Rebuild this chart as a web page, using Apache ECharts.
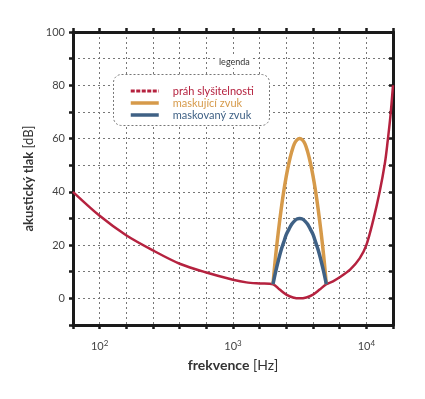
<!DOCTYPE html>
<html>
<head>
<meta charset="utf-8">
<script src="https://cdn.jsdelivr.net/npm/echarts@6/dist/echarts.min.js"></script>
<style>
html, body { margin: 0; padding: 0; background: #fff; }
#main { width: 425px; height: 399px; }
</style>
</head>
<body>
<div id="main"></div>
<script>
// frequencies in Hz, levels in dB
const thresholdFreq = [63, 100, 158, 251, 398, 631, 1000, 1259, 1585, 1995, 2239, 2512, 2818, 3162, 3548, 3981, 4467, 5012, 5623, 6310, 7586, 8913, 10000, 11220, 12589, 13804, 14454, 15136, 15849];
const thresholdDb   = [40, 31, 23.7, 18, 13, 9.7, 7, 6, 5.6, 5.3, 3.3, 1.4, 0.35, 0, 0.35, 1.4, 3.3, 5.3, 6.4, 7.9, 10.9, 15, 20, 29, 40, 51, 59, 68, 80];

const bumpFreq  = [1995, 2089, 2188, 2291, 2399, 2512, 2630, 2754, 2884, 3020, 3162, 3311, 3467, 3631, 3802, 3981, 4169, 4365, 4571, 4786, 5012];
const maskingDb = [5.3, 16, 25, 33, 40, 46, 51, 55, 58, 59.5, 60, 59.5, 58, 55, 51, 46, 40, 33, 25, 16, 5.3];
const maskedDb  = [5.3, 10, 14.2, 18, 21, 24, 26, 27.8, 29, 29.8, 30, 29.8, 29, 27.8, 26, 24, 21, 18, 14.2, 10, 5.3];

const yTicks = [0, 20, 40, 60, 80, 100];
const xTickExps = [2, 3, 4];
const seriesNames = ['práh slyšitelnosti', 'maskující zvuk', 'maskovaný zvuk'];
const colors = ['#b5223f', '#d69a4a', '#3f6185'];

const toPts = (f, v) => f.map((x, i) => [Math.log10(x), v[i]]);

const chart = echarts.init(document.getElementById('main'));

const gridLine = { show: true, lineStyle: { color: '#777', width: 1, type: [2, 3] } };
const axisLine = { show: true, onZero: false, lineStyle: { color: '#1a1a1a', width: 3 } };
const tick = { show: true, inside: false, length: 4, lineStyle: { color: '#1a1a1a', width: 2.5 } };

chart.setOption({
    animation: false,
    textStyle: { fontFamily: 'Lato, "Open Sans", sans-serif' },
    grid: { left: 73, right: 32, top: 32, bottom: 74 },
    xAxis: [
        {
            type: 'value',
            min: 1.8,
            max: 4.2,
            interval: 0.2,
            axisLine: axisLine,
            axisTick: tick,
            splitLine: gridLine,
            axisLabel: {
                margin: 14,
                color: '#444',
                fontSize: 11,
                formatter: v => {
                    const n = Math.round(v);
                    if (Math.abs(v - n) < 1e-6 && xTickExps.includes(n)) return '10{s|' + n + '}';
                    return '';
                },
                rich: { s: { fontSize: 8, verticalAlign: 'top', padding: [0, 0, 6, 0], color: '#444' } }
            },
            name: '{b|frekvence} [Hz]',
            nameLocation: 'middle',
            nameGap: 33,
            nameTextStyle: {
                fontSize: 14, color: '#333',
                rich: { b: { fontSize: 14, fontWeight: 'bold', color: '#333' } }
            }
        },
        {
            type: 'value',
            position: 'top',
            min: 1.8,
            max: 4.2,
            interval: 0.2,
            axisLine: axisLine,
            axisTick: tick,
            axisLabel: { show: false },
            splitLine: { show: false }
        }
    ],
    yAxis: [
        {
            type: 'value',
            min: -10,
            max: 100,
            interval: 10,
            axisLine: axisLine,
            axisTick: tick,
            splitLine: gridLine,
            axisLabel: {
                margin: 8,
                color: '#444',
                fontSize: 11,
                formatter: v => (yTicks.includes(v) ? String(v) : '')
            },
            name: '{b|akustický tlak} [dB]',
            nameLocation: 'middle',
            nameGap: 30,
            nameRotate: 90,
            nameTextStyle: {
                fontSize: 13, color: '#333',
                rich: { b: { fontSize: 13, fontWeight: 'bold', color: '#333' } }
            }
        },
        {
            type: 'value',
            position: 'right',
            min: -10,
            max: 100,
            interval: 10,
            axisLine: axisLine,
            axisTick: { show: true, length: 4, inside: true, lineStyle: { color: '#1a1a1a', width: 2.5 } },
            axisLabel: { show: false },
            splitLine: { show: false }
        }
    ],
    legend: {
        orient: 'vertical',
        left: 124,
        top: 80,
        z: 10,
        itemWidth: 28,
        itemHeight: 10,
        itemGap: 0,
        itemStyle: { opacity: 0 },
        textStyle: { fontSize: 11, lineHeight: 12, padding: [0, 0, 0, 9] },
        data: [
            { name: seriesNames[0], textStyle: { color: colors[0] }, lineStyle: { type: [4, 1.5], width: 3 } },
            { name: seriesNames[1], textStyle: { color: colors[1] }, lineStyle: { width: 3.5 } },
            { name: seriesNames[2], textStyle: { color: colors[2] }, lineStyle: { width: 3.5 } }
        ]
    },
    graphic: [
        {
            type: 'rect',
            left: 113, top: 74,
            shape: { width: 156, height: 51, r: 8 },
            style: { fill: '#fff', stroke: '#777', lineWidth: 1, lineDash: [2, 2] },
            z: 5
        },
        {
            type: 'text',
            left: 217, top: 57,
            style: { text: 'legenda', fontSize: 9, fill: '#333', fontFamily: 'Lato, sans-serif', backgroundColor: '#fff', padding: [1, 2] },
            z: 5
        }
    ],
    series: [
        {
            name: seriesNames[0],
            type: 'line',
            smooth: 0.3,
            symbol: 'none',
            data: toPts(thresholdFreq, thresholdDb),
            lineStyle: { color: colors[0], width: 2.5 },
            itemStyle: { color: colors[0] },
            z: 3
        },
        {
            name: seriesNames[1],
            type: 'line',
            smooth: 0.4,
            symbol: 'none',
            data: toPts(bumpFreq, maskingDb),
            lineStyle: { color: colors[1], width: 3.5 },
            itemStyle: { color: colors[1] },
            z: 4
        },
        {
            name: seriesNames[2],
            type: 'line',
            smooth: 0.4,
            symbol: 'none',
            data: toPts(bumpFreq, maskedDb),
            lineStyle: { color: colors[2], width: 3.5 },
            itemStyle: { color: colors[2] },
            z: 4
        }
    ]
});
</script>
</body>
</html>
